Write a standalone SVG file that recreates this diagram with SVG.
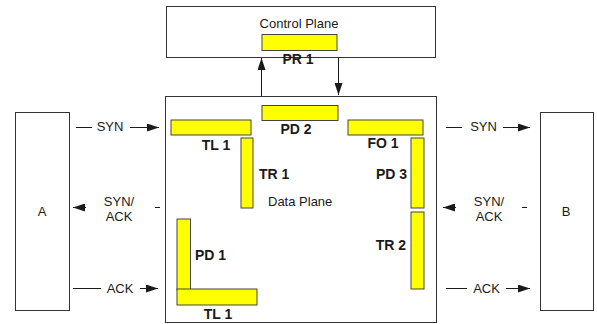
<svg xmlns="http://www.w3.org/2000/svg" width="597" height="324" viewBox="0 0 597 324">
<style>
.box{fill:#fff;stroke:#333;stroke-width:1}
.blk{fill:#ffff00;stroke:#444;stroke-width:1}
.t{font-family:"Liberation Sans",Arial,sans-serif;font-size:13px;fill:#1a1a1a}
.b{font-family:"Liberation Sans",Arial,sans-serif;font-size:14px;font-weight:bold;fill:#1a1a1a}
.c{stroke:#1a1a1a;stroke-width:1;fill:none}
.m{text-anchor:middle}
.e{text-anchor:end}
</style>
<defs>
<marker id="ah" markerUnits="userSpaceOnUse" markerWidth="12" markerHeight="8" refX="12" refY="4" orient="auto">
<path d="M0,0 L12,4 L0,8 z" fill="#1a1a1a"/>
</marker>
</defs>
<g id="control-plane">
<rect class="box" x="166.5" y="6.5" width="269" height="51"/>
<text class="t m" x="299" y="28">Control Plane</text>
</g>
<g id="data-plane">
<rect class="box" x="165.5" y="96.5" width="271" height="226"/>
<text class="t" x="268" y="206">Data Plane</text>
</g>
<g id="node-a">
<rect class="box" x="15.5" y="112.5" width="54" height="198"/>
<text class="t m" x="42" y="216">A</text>
</g>
<g id="node-b">
<rect class="box" x="540.5" y="112.5" width="53" height="198"/>
<text class="t m" x="566" y="216">B</text>
</g>
<g id="pr1">
<rect class="blk" x="262" y="34.5" width="75" height="16"/>
<text class="b m" x="298" y="64">PR 1</text>
</g>
<g id="pd2">
<rect class="blk" x="262" y="105.5" width="76" height="15"/>
<text class="b m" x="296" y="134">PD 2</text>
</g>
<g id="tl1-top">
<rect class="blk" x="171" y="120" width="80" height="15"/>
<text class="b m" x="216" y="150">TL 1</text>
</g>
<g id="tr1">
<rect class="blk" x="241" y="138" width="12" height="70"/>
<text class="b" x="259" y="179">TR 1</text>
</g>
<g id="fo1">
<rect class="blk" x="348" y="120" width="75" height="15"/>
<text class="b m" x="383" y="148">FO 1</text>
</g>
<g id="pd3">
<rect class="blk" x="411" y="138" width="13" height="70"/>
<text class="b e" x="407" y="179">PD 3</text>
</g>
<g id="tr2">
<rect class="blk" x="411" y="212" width="13" height="77"/>
<text class="b e" x="406" y="250">TR 2</text>
</g>
<g id="pd1">
<rect class="blk" x="177" y="219" width="13.5" height="71"/>
<text class="b" x="195" y="260">PD 1</text>
</g>
<g id="tl1-bottom">
<rect class="blk" x="177" y="289" width="80" height="16"/>
<text class="b m" x="218" y="319">TL 1</text>
</g>
<g id="connectors">
<line class="c" x1="261.5" y1="96" x2="261.5" y2="58" marker-end="url(#ah)"/>
<line class="c" x1="338.5" y1="57" x2="338.5" y2="95" marker-end="url(#ah)"/>
<line class="c" x1="76" y1="127.5" x2="92" y2="127.5"/>
<line class="c" x1="130" y1="127.5" x2="159" y2="127.5" marker-end="url(#ah)"/>
<text class="t m" x="110" y="131">SYN</text>
<line class="c" x1="155" y1="207.5" x2="160" y2="207.5"/>
<line class="c" x1="86" y1="207.5" x2="73" y2="207.5" marker-end="url(#ah)"/>
<text class="t m" x="119" y="205.5">SYN/</text>
<text class="t m" x="119" y="221">ACK</text>
<line class="c" x1="73" y1="288.5" x2="101" y2="288.5"/>
<line class="c" x1="140" y1="288.5" x2="158" y2="288.5" marker-end="url(#ah)"/>
<text class="t m" x="120" y="293">ACK</text>
<line class="c" x1="446" y1="127.5" x2="462" y2="127.5"/>
<line class="c" x1="503" y1="127.5" x2="530" y2="127.5" marker-end="url(#ah)"/>
<text class="t m" x="483.5" y="131">SYN</text>
<line class="c" x1="522" y1="207.5" x2="527" y2="207.5"/>
<line class="c" x1="456" y1="207.5" x2="443" y2="207.5" marker-end="url(#ah)"/>
<text class="t m" x="489" y="205.5">SYN/</text>
<text class="t m" x="489" y="221">ACK</text>
<line class="c" x1="446" y1="288.5" x2="467" y2="288.5"/>
<line class="c" x1="506" y1="288.5" x2="530" y2="288.5" marker-end="url(#ah)"/>
<text class="t m" x="486.5" y="293">ACK</text>
</g>
</svg>
